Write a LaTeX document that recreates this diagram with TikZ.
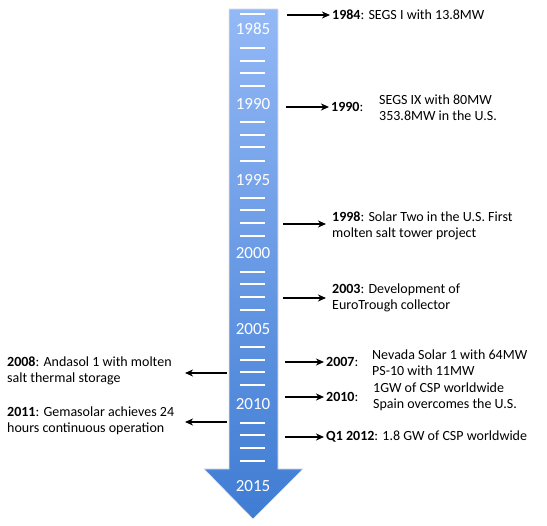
\documentclass[tikz,border=0pt]{standalone}
\usepackage{fontspec}
\setmainfont{Carlito}
\usetikzlibrary{arrows.meta}
\definecolor{toplight}{HTML}{93B8F6}
\definecolor{botdark}{HTML}{3F7CD3}
\begin{document}
\begin{tikzpicture}[x=1pt,y=-1pt,
  tick/.style={white,line width=1.8pt},
  yearlbl/.style={text=white,font=\fontsize{17}{20}\selectfont,inner sep=0pt},
  evt/.style={font=\fontsize{14}{15.8}\selectfont,inner sep=0pt,align=left},
  conn/.style={line width=1.5pt,-{Stealth[length=8pt,width=7pt,inset=2.5pt]}}]
\useasboundingbox (0,0) rectangle (547,526);
% timeline arrow
\shade[top color=toplight,bottom color=botdark,draw=white!80!gray,line width=0.6pt]
  (229,9) -- (278,9) -- (278,469) -- (303,469) -- (253,519) -- (204,469) -- (229,469) -- cycle;
% ticks
\foreach \y in {14,48,61,73,86,122,135,147,161,198,210,223,236,272,284,297,310,347,360,372,385,423,435,448,461}
  \draw[tick] (240,\y) -- (265,\y);
% year labels
\node[yearlbl] (y1985) at (253,29) {1985};
\node[yearlbl] (y1990) at (253,104) {1990};
\node[yearlbl] (y1995) at (253,180) {1995};
\node[yearlbl] (y2000) at (253,253) {2000};
\node[yearlbl] (y2005) at (253,329) {2005};
\node[yearlbl] (y2010) at (253,404) {2010};
\node[yearlbl] (y2015) at (253,486) {2015};
% right events
\node[evt,anchor=west] (t1984) at (332,15) {\textbf{1984}: SEGS I with 13.8MW};
\coordinate (s1984) at (287,15);
\draw[conn] (s1984) -- ([xshift=-2pt]t1984.west);

\node[evt,anchor=west] (t1990) at (331,107) {\textbf{1990}:};
\node[evt,anchor=west] (t1990b) at (379,107.5) {SEGS IX with 80MW\\353.8MW in the U.S.};
\coordinate (s1990) at (286,107);
\draw[conn] (s1990) -- ([xshift=-2pt]t1990.west);

\node[evt,anchor=west] (t1998) at (332,225.5) {\textbf{1998}: Solar Two in the U.S. First\\molten salt tower project};
\coordinate (s1998) at (283,224);
\coordinate (e1998) at (326,224);
\draw[conn] (s1998) -- (e1998);

\node[evt,anchor=west] (t2003) at (332,298) {\textbf{2003}: Development of\\EuroTrough collector};
\coordinate (s2003) at (283,298);
\draw[conn] (s2003) -- ([xshift=-6pt]t2003.west);

\node[evt,anchor=west] (t2007) at (326,362) {\textbf{2007}:};
\node[evt,anchor=west] (t2007b) at (372,362.5) {Nevada Solar 1 with 64MW\\PS-10 with 11MW};
\coordinate (s2007) at (285,362);
\draw[conn] (s2007) -- ([xshift=-2pt]t2007.west);

\node[evt,anchor=west] (t2010) at (326,397) {\textbf{2010}:};
\node[evt,anchor=west] (t2010b) at (373,396.5) {1GW of CSP worldwide\\Spain overcomes the U.S.};
\coordinate (s2010) at (285,397);
\draw[conn] (s2010) -- ([xshift=-2pt]t2010.west);

\node[evt,anchor=west] (t2012) at (326,437) {\textbf{Q1 2012}: 1.8 GW of CSP worldwide};
\coordinate (s2012) at (285,437);
\draw[conn] (s2012) -- ([xshift=-2pt]t2012.west);
% left events
\node[evt,anchor=west] (t2008) at (7,371) {\textbf{2008}: Andasol 1 with molten\\salt thermal storage};
\coordinate (s2008) at (227,373);
\coordinate (e2008) at (185,373);
\draw[conn] (s2008) -- (e2008);

\node[evt,anchor=west] (t2011) at (7,420.5) {\textbf{2011}: Gemasolar achieves 24\\hours continuous operation};
\coordinate (s2011) at (227,422);
\coordinate (e2011) at (185,422);
\draw[conn] (s2011) -- (e2011);
\end{tikzpicture}
\end{document}
